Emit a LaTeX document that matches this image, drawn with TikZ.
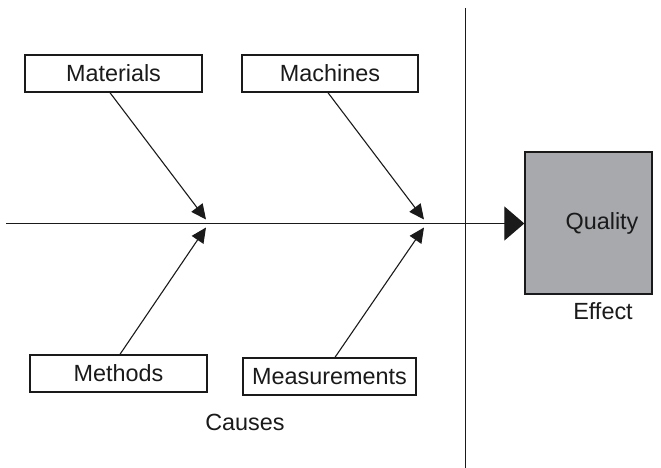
\documentclass[tikz,border=0pt]{standalone}
\usepackage{fontspec}
\setmainfont{Liberation Sans}
\usetikzlibrary{arrows.meta}
\definecolor{effectgray}{HTML}{A7A9AC}
\definecolor{ink}{HTML}{1A1A1A}
\begin{document}
\begin{tikzpicture}[x=1pt,y=-1pt,
  every node/.style={font=\fontsize{23.4}{27}\selectfont, text=ink},
  causebox/.style={draw=ink, line width=1.4pt, fill=white, inner sep=0pt, minimum height=37pt},
  bone/.style={draw=ink, line width=1.1pt, -{Triangle[length=15pt,width=14pt]}},
  spine/.style={draw=ink, line width=1.3pt, -{Triangle[length=20pt,width=34pt]}},
  plain/.style={inner sep=0pt}]
  \useasboundingbox (0,0) rectangle (661,468);

  % cause boxes
  \node[causebox, minimum width=177pt] (materials) at (113.5,73.5) {Materials};
  \node[causebox, minimum width=176pt] (machines) at (330,73.5) {Machines};
  \node[causebox, minimum width=177pt] (methods) at (118.5,373.5) {Methods};
  \node[causebox, minimum width=173pt] (measurements) at (329.5,376.5) {Measurements};

  % effect box
  \node[draw=ink, line width=1.4pt, fill=effectgray, minimum width=127pt, minimum height=142pt, inner sep=0pt] (quality) at (588.5,223) {};
  \node[plain] (qualitytext) at (602,223) {Quality};
  \node[plain] (effect) at (603,311) {Effect};
  \node[plain] (causes) at (245,422) {Causes};

  % separator between causes and effect
  \coordinate (septop) at (465.5,8);
  \coordinate (sepbot) at (465.5,468);
  \draw[ink, line width=1.4pt] (septop) -- (sepbot);

  % spine
  \coordinate (tail) at (6,223.5);
  \draw[spine] (tail) -- (quality.west |- tail);

  % arrow tips on the spine
  \coordinate (tipA) at (206,219.5);
  \coordinate (tipB) at (206,227.5);
  \coordinate (tipC) at (424,219.5);
  \coordinate (tipD) at (424,227.5);

  % bones
  \draw[bone] (materials.south -| 110,0) -- (tipA);
  \draw[bone] (machines.south -| 328,0) -- (tipC);
  \draw[bone] (methods.north -| 120,0) -- (tipB);
  \draw[bone] (measurements.north -| 335,0) -- (tipD);
\end{tikzpicture}
\end{document}
